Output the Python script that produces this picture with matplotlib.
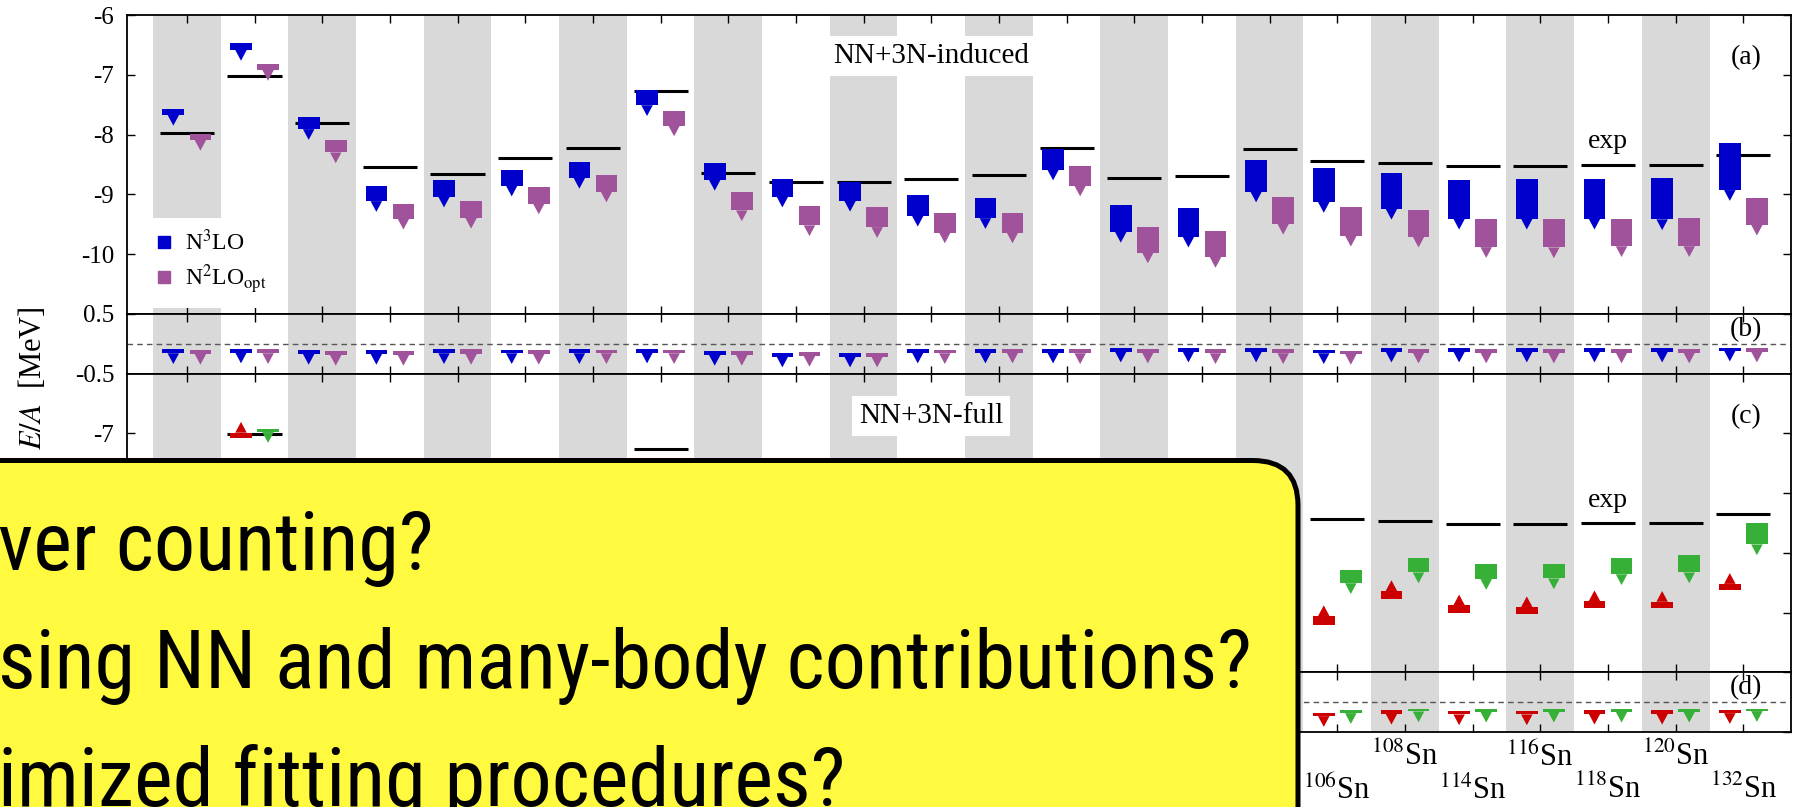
import numpy as np
import matplotlib.pyplot as plt
from matplotlib import font_manager
from matplotlib.patches import Rectangle, Polygon, FancyBboxPatch
from matplotlib.lines import Line2D

plt.rcParams['font.family'] = ['Liberation Serif', 'DejaVu Serif']
plt.rcParams['mathtext.fontset'] = 'stix'
plt.rcParams['axes.unicode_minus'] = False

nan = np.nan
cols = np.arange(1, 25)

# experimental E/A [MeV]
exp = [-7.98, -7.02, -7.81, -8.55, -8.665, -8.40, -8.22, -7.27, -8.647, -8.79, -8.80, -8.74,
       -8.68, -8.22, -8.73, -8.70, -8.245, -8.435, -8.47, -8.52, -8.525, -8.51, -8.51, -8.35]

# (a) NN+3N-induced : bar top / bar bottom
n3lo_a_top = [-7.567, -6.474, -7.71, -8.86, -8.765, -8.59, -8.453, -7.254, -8.475, -8.75, -8.80, -9.01,
              -9.055, -8.24, -9.18, -9.23, -8.425, -8.56, -8.647, -8.76, -8.75, -8.74, -8.73, -8.15]
n3lo_a_bot = [-7.672, -6.585, -7.91, -9.115, -9.04, -8.855, -8.726, -7.51, -8.76, -9.04, -9.11, -9.36,
              -9.40, -8.587, -9.63, -9.71, -8.955, -9.13, -9.244, -9.41, -9.41, -9.41, -9.42, -8.93]
n2lo_a_top = [-7.995, -6.82, -8.09, -9.166, -9.115, -8.876, -8.676, -7.60, -8.97, -9.19, -9.22, -9.306,
              -9.31, -8.53, -9.55, -9.61, -9.04, -9.22, -9.26, -9.42, -9.42, -9.41, -9.40, -9.055]
n2lo_a_bot = [-8.09, -6.92, -8.30, -9.41, -9.395, -9.155, -8.955, -7.85, -9.27, -9.52, -9.55, -9.64,
              -9.64, -8.855, -9.975, -10.05, -9.495, -9.695, -9.71, -9.885, -9.89, -9.87, -9.87, -9.51]

# (b) differences
n3lo_b_top = [-0.089, -0.089, -0.111, -0.105, -0.089, -0.105, -0.089, -0.089, -0.117, -0.161, -0.150, -0.089,
              -0.089, -0.089, -0.078, -0.078, -0.078, -0.105, -0.072, -0.072, -0.072, -0.072, -0.072, -0.072]
n3lo_b_bot = [-0.161, -0.150, -0.172, -0.172, -0.161, -0.161, -0.161, -0.150, -0.189, -0.217, -0.217, -0.150,
              -0.150, -0.150, -0.134, -0.134, -0.134, -0.161, -0.134, -0.134, -0.134, -0.134, -0.134, -0.117]
n2lo_b_top = [-0.105, -0.089, -0.117, -0.117, -0.095, -0.105, -0.105, -0.105, -0.117, -0.145, -0.150, -0.105,
              -0.095, -0.095, -0.095, -0.095, -0.095, -0.117, -0.089, -0.089, -0.089, -0.089, -0.089, -0.078]
n2lo_b_bot = [-0.172, -0.161, -0.189, -0.189, -0.172, -0.172, -0.161, -0.161, -0.189, -0.206, -0.217, -0.161,
              -0.150, -0.161, -0.150, -0.161, -0.161, -0.172, -0.150, -0.150, -0.150, -0.150, -0.150, -0.134]

# (c) NN+3N-full
n3lo_c_top = [nan, -6.99] + [nan] * 15 + [-10.06, -9.64, -9.88, -9.91, -9.81, -9.82, -9.52]
n3lo_c_bot = [nan, -7.076] + [nan] * 15 + [-10.21, -9.77, -10.00, -10.03, -9.92, -9.93, -9.62]
n2lo_c_top = [nan, -6.925] + [nan] * 15 + [-9.28, -9.08, -9.19, -9.18, -9.08, -9.04, -8.51]
n2lo_c_bot = [nan, -6.98] + [nan] * 15 + [-9.51, -9.33, -9.44, -9.43, -9.36, -9.33, -8.86]

# (d) differences
n3lo_d_top = [nan] * 17 + [-0.178, -0.139, -0.150, -0.150, -0.139, -0.139, -0.139]
n3lo_d_bot = [nan] * 17 + [-0.234, -0.195, -0.206, -0.206, -0.195, -0.195, -0.184]
n2lo_d_top = [nan] * 17 + [-0.139, -0.111, -0.117, -0.117, -0.117, -0.117, -0.111]
n2lo_d_bot = [nan] * 17 + [-0.184, -0.156, -0.161, -0.161, -0.161, -0.161, -0.150]

xlabels = [''] * 17 + ['$^{106}$Sn', '$^{108}$Sn', '$^{114}$Sn', '$^{116}$Sn',
                       '$^{118}$Sn', '$^{120}$Sn', '$^{132}$Sn']

note_lines = ['ver counting?', 'sing NN and many-body contributions?', 'imized fitting procedures?']

BLUE = '#0000cc'
PURPLE = '#a0529b'
RED = '#cc0000'
GREEN = '#36b036'
BAND = '#d9d9d9'

BAR_W = 0.32
TRI_W = 0.17
TRI_H = 0.18


def pin(ax, x, top, bot, color, up=False):
    # bar between two values with a small arrow head at one end
    if np.isnan(top):
        return
    ax.add_patch(Rectangle((x - BAR_W / 2, bot), BAR_W, top - bot, color=color, lw=0, zorder=3))
    if up:
        tri = [(x - TRI_W / 2, top), (x + TRI_W / 2, top), (x, top + TRI_H)]
    else:
        tri = [(x - TRI_W / 2, bot), (x + TRI_W / 2, bot), (x, bot - TRI_H)]
    ax.add_patch(Polygon(tri, closed=True, color=color, lw=0, zorder=3))


def style(ax, ylim, yticks, ylabels=None):
    ax.set_xlim(0.11, 24.7)
    ax.set_ylim(*ylim)
    ax.set_xticks(cols)
    ax.set_yticks(yticks)
    if ylabels is not None:
        ax.set_yticklabels(ylabels)
    ax.tick_params(direction='in', top=True, right=True, length=6, width=1.0,
                   labelsize=18, pad=9)
    ax.tick_params(axis='x', labelbottom=False)
    for s in ax.spines.values():
        s.set_linewidth(1.3)
    for k in cols[::2]:
        ax.axvspan(k - 0.5, k + 0.5, color=BAND, lw=0, zorder=0)


def narrow_font():
    # a condensed sans for the callout text, if one is installed
    tries = [('Roboto Condensed', 'normal'), ('Noto Sans', 'condensed'), ('Noto Sans', 'semi-condensed'),
             ('Open Sans', 'condensed'), ('Open Sans', 'semi-condensed'), ('Roboto', 'condensed')]
    for fam, st in tries:
        fp = font_manager.FontProperties(family=fam, stretch=st)
        try:
            path = font_manager.findfont(fp, fallback_to_default=False)
        except Exception:
            continue
        if fam == 'Roboto Condensed' or 'ondensed' in path:
            return fp
    return font_manager.FontProperties(family='Lato')


fig = plt.figure(figsize=(18.09, 8.07), dpi=100)
gs = fig.add_gridspec(4, 1, height_ratios=[5, 1, 5, 1], hspace=0,
                      left=0.070, right=0.9899, top=0.9814, bottom=0.0929)
ax_a = fig.add_subplot(gs[0])
ax_b = fig.add_subplot(gs[1])
ax_c = fig.add_subplot(gs[2])
ax_d = fig.add_subplot(gs[3])

# labels below -7 in (c) and in (d) sit under the callout box
style(ax_a, (-11, -6), [-10, -9, -8, -7, -6])
style(ax_b, (-0.5, 0.5), [-0.5, 0.5], ['-0.5', '0.5'])
style(ax_c, (-11, -6), [-10, -9, -8, -7], ['', '', '', '-7'])
style(ax_d, (-0.5, 0.5), [-0.5, 0.5], ['', ''])

for i, x in enumerate(cols):
    for ax in (ax_a, ax_c):
        ax.hlines(exp[i], x - 0.4, x + 0.4, color='black', lw=2.2, zorder=2)
    pin(ax_a, x - 0.2, n3lo_a_top[i], n3lo_a_bot[i], BLUE)
    pin(ax_a, x + 0.2, n2lo_a_top[i], n2lo_a_bot[i], PURPLE)
    pin(ax_b, x - 0.2, n3lo_b_top[i], n3lo_b_bot[i], BLUE)
    pin(ax_b, x + 0.2, n2lo_b_top[i], n2lo_b_bot[i], PURPLE)
    pin(ax_c, x - 0.2, n3lo_c_top[i], n3lo_c_bot[i], RED, up=True)
    pin(ax_c, x + 0.2, n2lo_c_top[i], n2lo_c_bot[i], GREEN)
    pin(ax_d, x - 0.2, n3lo_d_top[i], n3lo_d_bot[i], RED)
    pin(ax_d, x + 0.2, n2lo_d_top[i], n2lo_d_bot[i], GREEN)

for ax in (ax_b, ax_d):
    ax.axhline(0, color='#555555', lw=1.0, ls=(0, (4, 3)), zorder=1)

box = dict(facecolor='white', edgecolor='none', pad=5)
ax_a.text(12, -6.69, 'NN+3N-induced', ha='center', va='center', fontsize=21, bbox=box, zorder=4)
ax_c.text(12, -6.71, 'NN+3N-full', ha='center', va='center', fontsize=21, bbox=box, zorder=4)
ax_a.text(22, -8.12, 'exp', ha='center', va='center', fontsize=20)
ax_c.text(22, -8.12, 'exp', ha='center', va='center', fontsize=20)

for ax, lab, yy in ((ax_a, '(a)', 0.856), (ax_b, '(b)', 0.73), (ax_c, '(c)', 0.857), (ax_d, '(d)', 0.75)):
    ax.text(0.973, yy, lab, transform=ax.transAxes, ha='center', va='center', fontsize=20)

handles = [Line2D([], [], ls='', marker='s', ms=8, color=BLUE, label='N$^3$LO'),
           Line2D([], [], ls='', marker='s', ms=8, color=PURPLE, label='N$^2$LO$_{\\rm opt}$')]
ax_a.legend(handles=handles, loc='upper left', bbox_to_anchor=(0.0098, 0.321), frameon=True,
            fancybox=False, facecolor='white', edgecolor='none', framealpha=1, fontsize=17,
            borderpad=0.5, handlelength=0.8, handletextpad=0.5, labelspacing=0.3, borderaxespad=0)

ax_d.tick_params(axis='x', labelbottom=True, labelsize=22)
ax_d.set_xticklabels(xlabels)
for i, t in enumerate(ax_d.xaxis.get_major_ticks()):
    t.set_pad(31 if (i + 1) % 2 == 0 else 7)

fig.text(0.018, 0.532, '$E/A$  [MeV]', rotation=90, ha='center', va='center', fontsize=22)

# yellow callout over the lower left part
callout = FancyBboxPatch((-0.5, -0.5), 13.48, 3.965, boxstyle='round,pad=0,rounding_size=0.45',
                         transform=fig.dpi_scale_trans, facecolor='#fffa40', edgecolor='black',
                         lw=3.6, zorder=10)
fig.add_artist(callout)

note_fp = narrow_font()
renderer = fig.canvas.get_renderer()
probe = fig.text(0, 0, note_lines[1], fontproperties=note_fp, fontsize=50)
w = probe.get_window_extent(renderer).width
probe.remove()
fs = 50 * 1254 / w
for s, yb in zip(note_lines, (0.2937, 0.1475, 0.0012)):
    fig.text(-0.001, yb, s, fontproperties=note_fp, fontsize=fs, va='baseline',
             color='black', zorder=12)

fig.savefig('out.png', dpi=100)
